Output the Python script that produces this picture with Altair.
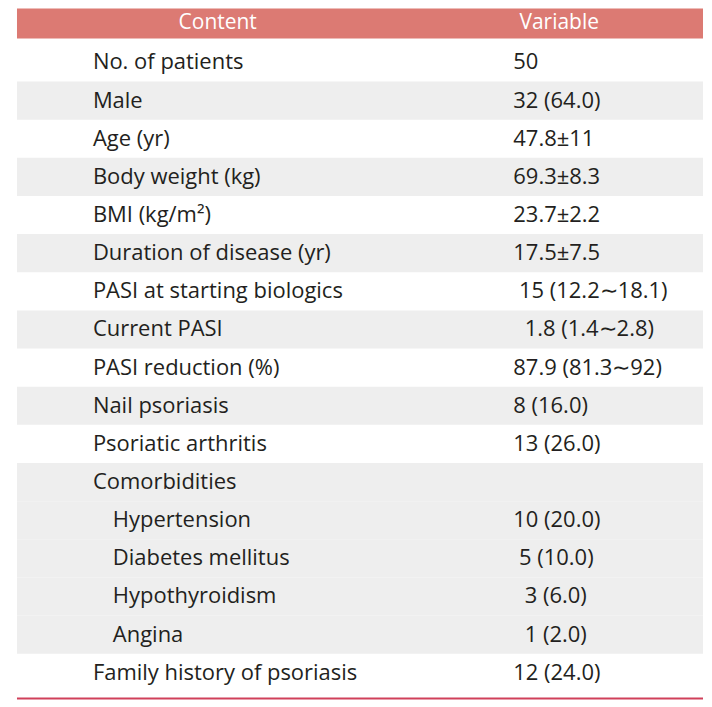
import altair as alt
import pandas as pd

# ---- data ----
header_labels = ["Content", "Variable"]
contents = [
    "No. of patients", "Male", "Age (yr)", "Body weight (kg)", "BMI (kg/m²)",
    "Duration of disease (yr)", "PASI at starting biologics", "Current PASI",
    "PASI reduction (%)", "Nail psoriasis", "Psoriatic arthritis", "Comorbidities",
    "Hypertension", "Diabetes mellitus", "Hypothyroidism", "Angina",
    "Family history of psoriasis",
]
P1 = "\u200b\u00a0"
P2 = "\u200b\u00a0\u00a0"
variables = [
    "50", "32 (64.0)", "47.8±11", "69.3±8.3", "23.7±2.2", "17.5±7.5",
    P1 + "15 (12.2∼18.1)", P2 + "1.8 (1.4∼2.8)", "87.9 (81.3∼92)", "8 (16.0)",
    "13 (26.0)", "", "10 (20.0)", P1 + "5 (10.0)", P2 + "3 (6.0)",
    P2 + "1 (2.0)", "12 (24.0)",
]
sub_item = [False]*12 + [True]*4 + [False]
shaded = [False, True, False, True, False, True, False, True, False, True,
          False, True, True, True, True, True, False]

FONT = "Open Sans"
FS = 22
HEADER_BG = "#DC7A73"
STRIPE = "#EEEEEE"
TEXT = "#231F20"
W = 687

df = pd.DataFrame({
    "row": list(range(len(contents))),
    "content": contents,
    "variable": variables,
    "sub": sub_item,
    "shaded": shaded,
})
df["top"] = df["row"] - 0.5
df["bottom"] = df["row"] + 0.5

yscale = alt.Scale(domain=[-0.628, 16.70], reverse=True, nice=False, zero=False)

base = alt.Chart(df)

stripes = base.transform_filter("datum.shaded").mark_rect(color=STRIPE).encode(
    x=alt.value(0), x2=alt.value(W),
    y=alt.Y("top:Q", scale=yscale, axis=None),
    y2="bottom:Q",
)

text_style = dict(align="left", baseline="middle", font=FONT, fontSize=FS, color=TEXT)

labels_main = base.transform_filter("!datum.sub").mark_text(**text_style).encode(
    x=alt.value(76),
    y=alt.Y("row:Q", scale=yscale, axis=None),
    text="content:N",
)
labels_sub = base.transform_filter("datum.sub").mark_text(**text_style).encode(
    x=alt.value(96),
    y=alt.Y("row:Q", scale=yscale, axis=None),
    text="content:N",
)

values = base.mark_text(**text_style).encode(
    x=alt.value(497),
    y=alt.Y("row:Q", scale=yscale, axis=None),
    text="variable:N",
)

bottom_line = alt.Chart(pd.DataFrame({"k": [0]})).mark_rule(
    color="#D0405A", strokeWidth=2
).encode(x=alt.value(0), x2=alt.value(W), y=alt.value(661))

body = alt.layer(stripes, labels_main, labels_sub, values, bottom_line).properties(
    width=W, height=662)

hdf = pd.DataFrame({"label": header_labels, "col": [0, 1]})
hrect = alt.Chart(pd.DataFrame({"k": [0]})).mark_rect(color=HEADER_BG).encode(
    x=alt.value(0), x2=alt.value(W), y=alt.value(0), y2=alt.value(30)
)
htext = alt.Chart(hdf).mark_text(align="center", baseline="middle", font=FONT,
                                 fontSize=21, color="white").encode(
    x=alt.X("col:Q", scale=alt.Scale(domain=[0, 1], range=[201, 543]), axis=None),
    y=alt.value(15),
    text="label:N",
)
header = alt.layer(hrect, htext).properties(width=W, height=30)

chart = alt.vconcat(header, body, spacing=0).properties(
    padding={"left": 8, "top": 0, "right": 0, "bottom": 0}
).configure_view(strokeWidth=0)

chart.save("out.html", embed_options={"renderer": "svg", "actions": False})
